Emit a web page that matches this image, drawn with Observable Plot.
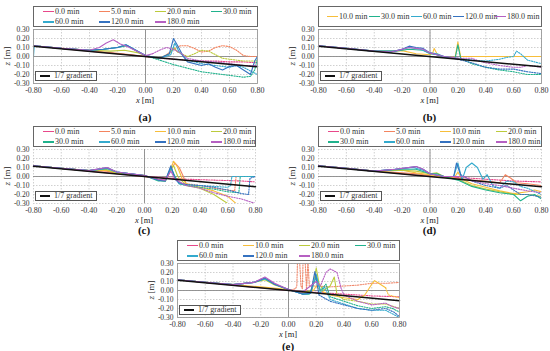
<!DOCTYPE html>
<html><head><meta charset="utf-8">
<script src="https://cdn.jsdelivr.net/npm/d3@7"></script>
<script src="https://cdn.jsdelivr.net/npm/@observablehq/plot@0.6"></script>
<style>
body{margin:0;background:#fff;font-family:"Liberation Serif",serif;}
#root{position:relative;width:550px;height:351px;overflow:hidden;background:#fff;}
#root svg{position:absolute;overflow:visible;}
.lg{position:absolute;border:1px solid #666;box-sizing:border-box;background:#fff;}
.it{position:absolute;font-size:8px;color:#333;white-space:nowrap;line-height:8px;}
.sw{position:absolute;height:1.5px;width:11px;}
.ylab{position:absolute;font-size:9px;color:#222;transform:translate(-50%,-50%) rotate(-90deg);white-space:nowrap;}
.xlab{position:absolute;font-size:8.5px;color:#222;transform:translate(-50%,-50%);white-space:nowrap;line-height:9px;}
.pl{position:absolute;font-size:11px;font-weight:bold;color:#111;transform:translate(-50%,-50%);white-space:nowrap;line-height:11px;}
</style></head><body><div id="root"></div>
<script>
// ---- labels, colours, ticks ----
const times = ["0.0 min","5.0 min","10.0 min","20.0 min","30.0 min","60.0 min","120.0 min","180.0 min"];
const colors = ["#E8488A","#F4845F","#F7BE3A","#BCCB3C","#20B28C","#34AACD","#3572C0","#B660C2","#F08A6E"];
const xTicks = [-0.8,-0.6,-0.4,-0.2,0,0.2,0.4,0.6,0.8];
const zTicks = [-0.3,-0.2,-0.1,0,0.1,0.2,0.3];
const gradX = [-0.8, 0.8];
const gradZ = [0.1143, -0.1143];

// ---- panel (a) ----
const a0 = [[-0.8,0.12],[-0.6,0.09],[-0.4,0.06],[-0.2,0.03],[0,0.0],[0.1,-0.02],[0.2,-0.03],[0.3,-0.04],[0.4,-0.05],[0.5,-0.05],[0.6,-0.06],[0.7,-0.06],[0.8,-0.07]];
const a5 = [[-0.8,0.12],[-0.6,0.09],[-0.4,0.065],[-0.3,0.05],[-0.2,0.035],[-0.1,0.02],[0,0.0],[0.1,-0.02],[0.15,0.02],[0.2,0.08],[0.25,0.12],[0.3,0.12],[0.35,0.09],[0.4,0.05],[0.45,0.06],[0.5,0.1],[0.55,0.12],[0.6,0.11],[0.65,0.07],[0.7,0.01],[0.75,0.0],[0.8,0.0]];
const a20 = [[-0.8,0.12],[-0.6,0.09],[-0.4,0.07],[-0.25,0.06],[-0.15,0.07],[-0.05,0.04],[0,0.01],[0.1,-0.02],[0.17,0.03],[0.2,0.1],[0.23,0.05],[0.3,0.0],[0.35,0.03],[0.4,0.07],[0.45,0.06],[0.5,0.02],[0.55,-0.02],[0.6,-0.03],[0.7,-0.05],[0.8,-0.05]];
const a30 = [[-0.8,0.12],[-0.6,0.09],[-0.4,0.07],[-0.3,0.08],[-0.2,0.1],[-0.13,0.12],[-0.05,0.05],[0,0.01],[0.1,-0.04],[0.2,-0.09],[0.3,-0.13],[0.4,-0.17],[0.5,-0.19],[0.6,-0.21],[0.7,-0.23],[0.75,-0.22],[0.78,-0.15],[0.8,-0.02]];
const a60 = [[-0.8,0.0],[-0.795,0.12],[-0.6,0.09],[-0.4,0.07],[-0.3,0.08],[-0.2,0.1],[-0.14,0.13],[-0.08,0.08],[0,0.01],[0.1,-0.02],[0.18,0.02],[0.21,0.15],[0.24,0.05],[0.3,-0.04],[0.4,-0.08],[0.5,-0.1],[0.6,-0.12],[0.65,-0.1],[0.7,-0.12],[0.76,-0.17],[0.8,-0.2]];
const a120 = [[-0.8,0.12],[-0.6,0.09],[-0.4,0.07],[-0.3,0.08],[-0.2,0.1],[-0.14,0.13],[-0.07,0.07],[0,0.01],[0.1,-0.02],[0.17,0.03],[0.2,0.2],[0.23,0.12],[0.27,0.0],[0.3,-0.06],[0.4,-0.1],[0.45,-0.08],[0.5,-0.12],[0.55,-0.15],[0.6,-0.11],[0.65,-0.1],[0.7,-0.15],[0.75,-0.2],[0.78,-0.05],[0.8,0.0]];
const a180 = [[-0.8,0.12],[-0.6,0.09],[-0.4,0.07],[-0.33,0.1],[-0.28,0.15],[-0.23,0.185],[-0.18,0.14],[-0.13,0.11],[-0.05,0.05],[0,0.01],[0.05,0.03],[0.1,0.07],[0.15,0.1],[0.2,0.08],[0.25,0.04],[0.3,-0.02],[0.4,-0.05],[0.5,-0.06],[0.6,-0.08],[0.7,-0.1],[0.8,-0.1]];

// ---- panel (b) ----
const b10 = [[-0.8,0.12],[-0.6,0.09],[-0.4,0.06],[-0.2,0.065],[-0.1,0.03],[0,0.02],[0.02,0.04],[0.03,0.09],[0.05,0.03],[0.1,-0.01],[0.18,-0.01],[0.2,0.16],[0.22,0.0],[0.8,0.0]];
const b30 = [[-0.8,0.12],[-0.6,0.09],[-0.4,0.06],[-0.25,0.06],[-0.15,0.08],[-0.05,0.07],[0,0.03],[0.05,0.02],[0.1,-0.01],[0.18,-0.02],[0.2,0.13],[0.22,-0.02],[0.3,-0.08],[0.4,-0.12],[0.5,-0.15],[0.6,-0.17],[0.7,-0.2],[0.8,-0.2]];
const b60 = [[-0.8,0.12],[-0.6,0.09],[-0.4,0.06],[-0.25,0.06],[-0.15,0.1],[-0.07,0.08],[0,0.04],[0.05,0.03],[0.1,0.0],[0.2,-0.02],[0.3,-0.04],[0.4,-0.05],[0.5,-0.03],[0.55,-0.01],[0.6,0.0],[0.62,0.06],[0.65,0.03],[0.7,-0.04],[0.75,-0.06],[0.8,-0.08]];
const b120 = [[-0.8,0.12],[-0.6,0.09],[-0.4,0.06],[-0.28,0.05],[-0.2,0.08],[-0.15,0.115],[-0.1,0.1],[-0.05,0.09],[0,0.04],[0.05,0.02],[0.1,0.0],[0.2,-0.03],[0.3,-0.07],[0.4,-0.12],[0.5,-0.14],[0.6,-0.14],[0.7,-0.17],[0.8,-0.19]];
const b180 = [[-0.8,0.12],[-0.6,0.09],[-0.4,0.06],[-0.28,0.05],[-0.2,0.08],[-0.15,0.1],[-0.1,0.09],[-0.05,0.08],[0,0.04],[0.05,0.02],[0.1,0.0],[0.2,-0.02],[0.3,-0.02],[0.35,-0.05],[0.4,-0.07],[0.5,-0.1],[0.6,-0.12],[0.65,-0.12],[0.7,-0.1],[0.8,-0.12]];

// ---- panel (c) ----
const c0 = [[-0.8,0.12],[-0.6,0.09],[-0.4,0.06],[-0.2,0.03],[0,0.0],[0.1,-0.01],[0.2,-0.02],[0.3,-0.03],[0.5,-0.04],[0.7,-0.05],[0.8,-0.06]];
const c5 = [[-0.8,0.12],[-0.6,0.09],[-0.4,0.065],[-0.27,0.06],[-0.2,0.035],[0,0.0],[0.1,-0.03],[0.15,-0.04],[0.2,0.1],[0.22,0.15],[0.25,0.1],[0.28,0.0],[0.3,-0.08],[0.4,-0.1],[0.5,-0.13],[0.6,-0.15],[0.65,-0.16],[0.66,0.0],[0.8,0.0]];
const c10 = [[-0.8,0.12],[-0.6,0.09],[-0.4,0.065],[-0.28,0.07],[-0.2,0.04],[0,0.01],[0.1,-0.04],[0.15,-0.05],[0.18,0.05],[0.21,0.17],[0.24,0.1],[0.27,-0.02],[0.3,-0.08],[0.4,-0.12],[0.5,-0.16],[0.6,-0.22],[0.66,-0.3]];
const c20 = [[-0.8,0.12],[-0.6,0.09],[-0.4,0.065],[-0.28,0.08],[-0.2,0.04],[0,0.01],[0.1,-0.04],[0.15,-0.05],[0.19,0.08],[0.21,0.12],[0.24,0.0],[0.3,-0.1],[0.4,-0.13],[0.5,-0.2],[0.55,-0.25],[0.6,-0.3]];
const c30 = [[-0.8,0.12],[-0.6,0.09],[-0.4,0.065],[-0.27,0.09],[-0.2,0.05],[0,0.01],[0.1,-0.05],[0.15,-0.05],[0.19,0.1],[0.22,0.0],[0.25,-0.08],[0.3,-0.1],[0.4,-0.12],[0.5,-0.14],[0.6,-0.17],[0.68,-0.18],[0.69,0.0],[0.8,0.0]];
const c60 = [[-0.8,0.12],[-0.6,0.09],[-0.4,0.065],[-0.27,0.09],[-0.2,0.05],[0,0.01],[0.1,-0.04],[0.15,-0.05],[0.19,0.1],[0.22,-0.02],[0.25,-0.08],[0.3,-0.09],[0.4,-0.1],[0.5,-0.11],[0.6,-0.12],[0.62,-0.1],[0.63,0.0],[0.8,0.0]];
const c120 = [[-0.8,0.12],[-0.6,0.09],[-0.4,0.065],[-0.27,0.1],[-0.2,0.05],[0,0.01],[0.1,-0.04],[0.15,-0.05],[0.19,0.12],[0.22,-0.03],[0.25,-0.07],[0.3,-0.09],[0.4,-0.1],[0.5,-0.12],[0.6,-0.15],[0.7,-0.19],[0.75,-0.2],[0.76,-0.02],[0.8,0.0]];
const c180 = [[-0.8,0.12],[-0.6,0.09],[-0.4,0.065],[-0.27,0.1],[-0.2,0.05],[0,0.01],[0.1,-0.03],[0.15,-0.04],[0.19,0.06],[0.22,-0.03],[0.3,-0.1],[0.4,-0.13],[0.5,-0.18],[0.6,-0.22],[0.7,-0.25],[0.8,-0.3]];

// ---- panel (d) ----
const d0 = [[-0.8,0.12],[-0.6,0.09],[-0.4,0.06],[-0.2,0.03],[0,0.0],[0.2,-0.01],[0.4,-0.03],[0.6,-0.05],[0.8,-0.06]];
const d5 = [[-0.8,0.12],[-0.6,0.09],[-0.4,0.06],[-0.2,0.04],[-0.1,0.03],[0,0.01],[0.1,-0.01],[0.2,-0.02],[0.3,-0.04],[0.4,-0.05],[0.5,-0.07],[0.54,0.02],[0.58,-0.02],[0.62,-0.07],[0.7,-0.08],[0.8,-0.1]];
const d10 = [[-0.8,0.12],[-0.6,0.09],[-0.4,0.06],[-0.2,0.07],[-0.1,0.04],[0,0.02],[0.1,-0.01],[0.18,0.0],[0.2,0.05],[0.23,-0.03],[0.3,-0.08],[0.4,-0.12],[0.5,-0.16],[0.6,-0.19],[0.7,-0.17],[0.75,-0.15],[0.8,-0.17]];
const d20 = [[-0.8,0.12],[-0.6,0.09],[-0.4,0.06],[-0.2,0.07],[-0.1,0.06],[0,0.03],[0.05,0.04],[0.1,0.0],[0.2,-0.03],[0.3,-0.1],[0.4,-0.14],[0.5,-0.17],[0.6,-0.2],[0.7,-0.2],[0.8,-0.22]];
const d30 = [[-0.8,0.12],[-0.6,0.09],[-0.4,0.06],[-0.2,0.08],[-0.1,0.08],[0,0.03],[0.05,0.03],[0.1,0.0],[0.2,-0.04],[0.3,-0.11],[0.4,-0.15],[0.5,-0.18],[0.6,-0.2],[0.65,-0.27],[0.7,-0.22],[0.75,-0.2],[0.8,-0.25]];
const d60 = [[-0.8,0.12],[-0.6,0.09],[-0.4,0.06],[-0.25,0.08],[-0.12,0.1],[-0.05,0.07],[0,0.03],[0.1,0.0],[0.17,0.0],[0.2,0.15],[0.23,-0.04],[0.26,0.1],[0.3,0.15],[0.34,0.1],[0.38,-0.03],[0.41,0.02],[0.45,-0.1],[0.5,-0.13],[0.55,-0.05],[0.6,-0.06],[0.65,-0.11],[0.7,-0.13],[0.8,-0.2]];
const d120 = [[-0.8,0.12],[-0.6,0.09],[-0.4,0.06],[-0.25,0.08],[-0.1,0.11],[-0.05,0.08],[0,0.03],[0.1,0.0],[0.17,0.0],[0.19,0.15],[0.22,0.02],[0.3,-0.05],[0.4,-0.1],[0.5,-0.13],[0.55,-0.1],[0.6,-0.15],[0.65,-0.2],[0.7,-0.2],[0.8,-0.23]];
const d180 = [[-0.8,0.12],[-0.6,0.09],[-0.4,0.06],[-0.25,0.08],[-0.1,0.11],[-0.05,0.08],[0,0.03],[0.1,0.0],[0.2,0.0],[0.25,0.0],[0.3,-0.05],[0.4,-0.08],[0.5,-0.1],[0.6,-0.13],[0.7,-0.16],[0.8,-0.18]];

// ---- panel (e) ----
const e0 = [[-0.8,0.12],[-0.6,0.09],[-0.4,0.06],[-0.2,0.03],[0,0.0],[0.2,-0.02],[0.4,-0.04],[0.6,-0.06],[0.8,-0.07]];
const eS = [[0.0,0.0],[0.05,0.02],[0.06,0.05],[0.065,0.33],[0.08,0.33],[0.09,0.05],[0.1,0.02],[0.105,0.33],[0.12,0.33],[0.13,0.0],[0.14,0.33],[0.15,0.05],[0.2,0.05],[0.3,0.04],[0.4,0.05],[0.5,0.06],[0.6,0.08],[0.7,0.08],[0.8,0.09]];
const e10 = [[-0.8,0.12],[-0.6,0.09],[-0.4,0.065],[-0.2,0.04],[0,0.01],[0.1,-0.02],[0.18,0.0],[0.2,0.05],[0.23,0.0],[0.3,-0.05],[0.4,-0.08],[0.5,-0.1],[0.55,-0.05],[0.6,0.07],[0.62,0.11],[0.65,0.08],[0.7,0.03],[0.72,-0.05],[0.8,-0.08]];
const e20 = [[-0.8,0.12],[-0.6,0.09],[-0.4,0.065],[-0.25,0.09],[-0.17,0.12],[-0.1,0.06],[0,0.01],[0.1,-0.03],[0.17,0.0],[0.2,0.25],[0.22,0.08],[0.25,0.0],[0.3,0.05],[0.33,0.15],[0.35,-0.05],[0.4,-0.1],[0.5,-0.12],[0.6,-0.15],[0.7,-0.15],[0.8,-0.2]];
const e30 = [[-0.8,0.12],[-0.6,0.09],[-0.4,0.065],[-0.25,0.09],[-0.17,0.13],[-0.1,0.07],[0,0.01],[0.1,-0.04],[0.15,-0.04],[0.2,0.15],[0.23,0.0],[0.27,0.07],[0.3,-0.07],[0.4,-0.12],[0.5,-0.17],[0.6,-0.2],[0.7,-0.18],[0.75,-0.2],[0.8,-0.24]];
const e60 = [[-0.8,0.12],[-0.6,0.09],[-0.4,0.065],[-0.25,0.09],[-0.17,0.13],[-0.1,0.07],[0,0.01],[0.1,-0.04],[0.16,-0.03],[0.2,0.18],[0.23,-0.03],[0.26,0.04],[0.3,-0.1],[0.4,-0.15],[0.5,-0.2],[0.6,-0.22],[0.7,-0.22],[0.8,-0.3]];
const e120 = [[-0.8,0.12],[-0.6,0.09],[-0.4,0.065],[-0.25,0.09],[-0.17,0.14],[-0.1,0.07],[0,0.01],[0.1,-0.04],[0.16,-0.03],[0.19,0.21],[0.22,-0.05],[0.3,-0.12],[0.4,-0.16],[0.5,-0.2],[0.6,-0.22],[0.7,-0.2],[0.76,-0.24],[0.8,-0.29]];
const e180 = [[-0.8,0.12],[-0.6,0.09],[-0.4,0.065],[-0.25,0.09],[-0.17,0.15],[-0.1,0.08],[0,0.01],[0.1,-0.02],[0.2,0.1],[0.23,0.05],[0.27,0.2],[0.3,0.24],[0.35,0.2],[0.38,0.02],[0.4,-0.05],[0.5,-0.12],[0.6,-0.16],[0.65,-0.15],[0.7,-0.14],[0.75,-0.18],[0.8,-0.2]];

// ---- layout / configuration ----
const panels = [
  {name:"(a)", fx:33, fy:29, w:224, frame:true, cols:4, tag:34, legend:[0,1,3,4,5,6,7],
   series:[[0,a0,0.0],[1,a5,0.1],[3,a20,0.25],[4,a30,0.05],[5,a60,0.25],[6,a120,0.8],[7,a180,0.05]]},
  {name:"(b)", fx:318, fy:29, w:223, frame:true, cols:5, tag:34, legend:[2,4,5,6,7],
   series:[[2,b10,0.8],[4,b30,0.25],[5,b60,0.25],[6,b120,0.25],[7,b180,0.25]]},
  {name:"(c)", fx:33, fy:149, w:222, frame:false, cols:4, tag:27, legend:[0,1,2,3,4,5,6,7],
   series:[[0,c0,0.25],[1,c5,0.3],[2,c10,0.8],[3,c20,0.8],[4,c30,0.3],[5,c60,0.3],[6,c120,0.3],[7,c180,0.3]]},
  {name:"(d)", fx:318, fy:149, w:223, frame:false, cols:4, tag:27, legend:[0,1,2,3,4,5,6,7],
   series:[[0,d0,0.2],[1,d5,0.8],[2,d10,0.8],[3,d20,0.8],[4,d30,0.8],[5,d60,0.45],[6,d120,0.25],[7,d180,0.2]]},
  {name:"(e)", fx:177, fy:263, w:222, frame:true, cols:4, tag:28.5, legend:[0,2,3,4,5,6,7],
   series:[[8,eS,-1],[0,e0,0.1],[2,e10,0.7],[3,e20,0.35],[4,e30,0.25],[5,e60,0.25],[6,e120,0.25],[7,e180,0.22]]}
];

const root = document.getElementById("root");
const H = 54, ML = 33, MR = 8, MT = 5, MB = 22;
const grad = gradX.map((x, i) => [x, gradZ[i]]);

function el(cls, style, html) {
  const d = document.createElement("div");
  d.className = cls; Object.assign(d.style, style);
  if (html != null) d.innerHTML = html;
  root.appendChild(d); return d;
}

for (const p of panels) {
  const marks = [
    Plot.ruleX(xTicks, {stroke: "#c4c4c4", strokeDasharray: "1.5,1.5", strokeWidth: 0.8}),
    Plot.ruleY(zTicks, {stroke: "#c4c4c4", strokeDasharray: "1.5,1.5", strokeWidth: 0.8}),
    Plot.ruleX([0], {stroke: "#8a8a8a", strokeWidth: 0.9}),
    Plot.ruleY([0], {stroke: "#8a8a8a", strokeWidth: 0.9})
  ];
  for (const [ci, pts, dotFrom] of p.series) {
    let k = pts.findIndex(d => d[0] > dotFrom);
    if (k < 0) k = pts.length;
    const solid = pts.slice(0, k), dotted = pts.slice(Math.max(0, k - 1));
    const opt = {x: d => d[0], y: d => d[1], stroke: colors[ci], strokeWidth: 1.1, clip: true};
    if (solid.length > 1) marks.push(Plot.line(solid, opt));
    if (k < pts.length) marks.push(Plot.line(dotted, {...opt, strokeDasharray: "1.3,1.3"}));
  }
  marks.push(Plot.line(grad, {x: d => d[0], y: d => d[1], stroke: "#111", strokeWidth: 1.5}));
  if (p.frame) marks.push(Plot.frame({stroke: "#9a9a9a", strokeWidth: 0.9}));
  marks.push(Plot.axisX(xTicks, {tickFormat: d => d.toFixed(2), tickSize: 0, tickPadding: 4, label: null, fontSize: 8}));
  marks.push(Plot.axisY(zTicks, {tickFormat: d => d.toFixed(2), tickSize: 0, tickPadding: 4, label: null, fontSize: 7.5}));

  const svg = Plot.plot({
    width: ML + p.w + MR, height: MT + H + MB,
    marginLeft: ML, marginRight: MR, marginTop: MT, marginBottom: MB,
    x: {domain: [-0.8, 0.8]}, y: {domain: [-0.3, 0.3]},
    style: {fontFamily: "Liberation Serif", fontSize: "8px", color: "#333", background: "transparent"},
    marks
  });
  svg.style.left = (p.fx - ML) + "px";
  svg.style.top = (p.fy - MT) + "px";
  root.appendChild(svg);

  // top legend box
  const lgTop = p.fy - 23, lgH = 21;
  el("lg", {left: p.fx + "px", top: lgTop + "px", width: (p.w + 1) + "px", height: lgH + "px"});
  const step = p.cols === 4 ? 56 : 42, off = p.cols === 4 ? 10 : 9;
  p.legend.forEach((ci, i) => {
    const col = i % p.cols, row = Math.floor(i / p.cols);
    const cy = p.legend.length <= p.cols ? lgTop + 10.5 : lgTop + 5.5 + row * 10.5;
    const x0 = p.fx + off + col * step;
    el("sw", {left: x0 + "px", top: (cy - 0.75) + "px", background: colors[ci]});
    el("it", {left: (x0 + 12) + "px", top: (cy - 4) + "px"}, times[ci]);
  });

  // inner "1/7 gradient" legend
  const gx = p.fx + 2, gy = p.fy + H - 12;
  el("lg", {left: gx + "px", top: gy + "px", width: "62px", height: "10px", borderColor: "#555"});
  el("sw", {left: (gx + 5) + "px", top: (gy + 4.25) + "px", width: "10px", background: "#111"});
  el("it", {left: (gx + 19) + "px", top: (gy + 1) + "px"}, "1/7 gradient");

  // axis titles and panel tag
  const cx = p.fx + p.w / 2;
  el("ylab", {left: (p.fx - 26) + "px", top: (p.fy + H / 2) + "px"}, "<i>z</i> [m]");
  el("xlab", {left: cx + "px", top: (p.fy + H + 17) + "px"}, "<i>x</i> [m]");
  el("pl", {left: cx + "px", top: (p.fy + H + p.tag) + "px"}, p.name);
}
</script></body></html>
